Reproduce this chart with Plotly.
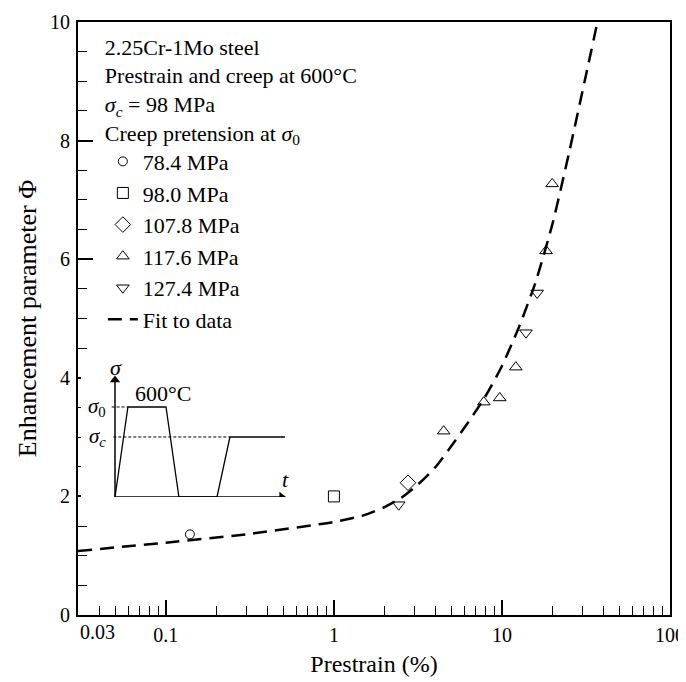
import plotly.graph_objects as go

# ---- data ----
circ_x = [0.139]
circ_y = [1.36]
sq_x = [1.0]
sq_y = [2.0]
dia_x = [2.76]
dia_y = [2.23]
up_x = [4.5, 7.8, 9.7, 12.1, 18.3, 19.9]
up_y = [3.10, 3.59, 3.66, 4.18, 6.14, 7.27]
dn_x = [2.43, 13.9, 16.2]
dn_y = [1.86, 4.76, 5.43]

fit_x = [0.03, 0.1, 0.3, 1.0, 1.5, 2.0, 2.5, 3.16, 3.98, 5.0, 6.3, 7.9, 10.0,
         12.6, 15.8, 20.0, 25.1, 31.6, 37.0]
fit_y = [1.08, 1.22, 1.36, 1.57, 1.68, 1.82, 1.97, 2.2, 2.48, 2.85, 3.25, 3.67,
         4.2, 4.85, 5.6, 6.6, 7.8, 9.1, 10.0]

x_tickvals = [0.1, 1, 10, 100]
x_ticktext = ["0.1", "1", "10", "100"]
y_tickvals = [0, 2, 4, 6, 8, 10]

# inset schematic (t, sigma) in schematic units
inset_t = [0, 0.76, 3.0, 3.76, 6.0, 6.76, 10]
sig0 = 1.5
sigc = 1.0
inset_s = [0, sig0, sig0, 0, 0, sigc, sigc]
t_end = 9.8
s_end = 1.95

FONT = "Liberation Serif"
FS_TICK = 20
FS_LEG = 22
FS_XTITLE = 24
FS_YTITLE = 26

fig = go.Figure()

mk = dict(color="black", width=1)
fig.add_trace(go.Scatter(x=circ_x, y=circ_y, mode="markers", name="78.4 MPa",
                         marker=dict(symbol="circle-open", size=9, color="black", line=mk)))
fig.add_trace(go.Scatter(x=sq_x, y=sq_y, mode="markers", name="98.0 MPa",
                         marker=dict(symbol="square-open", size=11, color="black", line=mk)))
fig.add_trace(go.Scatter(x=dia_x, y=dia_y, mode="markers", name="107.8 MPa",
                         marker=dict(symbol="diamond-open", size=12, color="black", line=mk)))
fig.add_trace(go.Scatter(x=up_x, y=up_y, mode="markers", name="117.6 MPa",
                         marker=dict(symbol="triangle-up-open", size=11, color="black", line=mk)))
fig.add_trace(go.Scatter(x=dn_x, y=dn_y, mode="markers", name="127.4 MPa",
                         marker=dict(symbol="triangle-down-open", size=11, color="black", line=mk)))
fig.add_trace(go.Scatter(x=fit_x, y=fit_y, mode="lines", name="Fit to data",
                         line=dict(color="black", width=2.5, dash="14px,8px", shape="spline",
                                   smoothing=0.6)))

# inset: axes with arrow heads
fig.add_trace(go.Scatter(x=[0, 0, None, 0, t_end], y=[0, s_end, None, 0, 0], mode="lines",
                         xaxis="x2", yaxis="y2", line=dict(color="black", width=1.5),
                         showlegend=False, hoverinfo="skip"))
fig.add_trace(go.Scatter(x=[0, t_end], y=[s_end, 0], mode="markers", xaxis="x2", yaxis="y2",
                         marker=dict(symbol=["triangle-up", "triangle-right"], size=9,
                                     color="black", line=dict(width=0)),
                         showlegend=False, hoverinfo="skip"))
# inset: stress history
fig.add_trace(go.Scatter(x=inset_t, y=inset_s, mode="lines", xaxis="x2", yaxis="y2",
                         line=dict(color="black", width=1.3), showlegend=False, hoverinfo="skip"))
fig.add_trace(go.Scatter(x=[-0.2, inset_t[1]], y=[sig0, sig0], mode="lines", xaxis="x2", yaxis="y2",
                         line=dict(color="black", width=1, dash="3px,2px"), showlegend=False,
                         hoverinfo="skip"))
fig.add_trace(go.Scatter(x=[-0.1, inset_t[5]], y=[sigc, sigc], mode="lines", xaxis="x2", yaxis="y2",
                         line=dict(color="black", width=1, dash="3px,2px"), showlegend=False,
                         hoverinfo="skip"))

annotations = [
    dict(x=0, y=2.0, xref="x2", yref="y2", text="<i>σ</i>", showarrow=False,
         xanchor="center", yanchor="bottom", xshift=1, yshift=-5,
         font=dict(size=22, family=FONT)),
    dict(x=10, y=0, xref="x2", yref="y2", text="<i>t</i>", showarrow=False,
         xanchor="center", yanchor="bottom", yshift=3, font=dict(size=22, family=FONT)),
    dict(x=3.0, y=sig0, xref="x2", yref="y2", text="600°C", showarrow=False,
         xanchor="center", yanchor="bottom", xshift=-3, yshift=-1,
         font=dict(size=22, family=FONT)),
    dict(x=-0.4, y=sig0, xref="x2", yref="y2", text="<i>σ</i><sub>0</sub>", showarrow=False,
         xanchor="right", yanchor="middle", font=dict(size=21, family=FONT)),
    dict(x=-0.4, y=sigc, xref="x2", yref="y2", text="<i>σ</i><sub><i>c</i></sub>", showarrow=False,
         xanchor="right", yanchor="middle", font=dict(size=21, family=FONT)),
    # 0.03 edge tick label
    dict(x=0, y=0, xref="paper", yref="paper", text="0.03", showarrow=False,
         xanchor="left", yanchor="top", yshift=-4,
         font=dict(size=FS_TICK, family=FONT, color="black")),
]

# the page body adds an 8px offset; the figure is sized so the plot lands where the reference's does
fig.update_layout(
    width=678, height=674,
    margin=dict(l=70, r=16, t=14, b=67),
    paper_bgcolor="white", plot_bgcolor="white",
    font=dict(family=FONT, size=FS_TICK, color="black"),
    showlegend=True,
    legend=dict(
        x=0.042, y=0.993, xanchor="left", yanchor="top",
        bgcolor="rgba(0,0,0,0)", borderwidth=0,
        font=dict(size=FS_LEG, family=FONT),
        title=dict(text="2.25Cr-1Mo steel<br>Prestrain and creep at 600°C<br>"
                        "<i>σ<sub>c</sub></i> = 98 MPa<br>Creep pretension at <i>σ</i><sub>0</sub>",
                   font=dict(size=FS_LEG, family=FONT)),
        itemwidth=30,
    ),
    xaxis=dict(
        type="log", range=[-1.5229, 2],
        tickvals=x_tickvals, ticktext=x_ticktext,
        ticks="inside", ticklen=15, tickwidth=1.5, tickcolor="black",
        minor=dict(ticks="inside", ticklen=9, tickwidth=1.3, tickcolor="black", dtick="D1",
                   showgrid=False),
        showline=True, linecolor="black", linewidth=2, mirror=True,
        showgrid=False, zeroline=False, automargin=False,
        tickfont=dict(size=FS_TICK, family=FONT),
        ticklabelstandoff=1,
        title=dict(text="Prestrain (%)", font=dict(size=FS_XTITLE, family=FONT), standoff=10),
    ),
    yaxis=dict(
        range=[0, 10],
        tickvals=y_tickvals,
        ticks="inside", ticklen=15, tickwidth=1.5, tickcolor="black",
        minor=dict(ticks="inside", ticklen=9, tickwidth=1.3, tickcolor="black", dtick=0.5,
                   showgrid=False),
        showline=True, linecolor="black", linewidth=2, mirror=True,
        showgrid=False, zeroline=False, automargin=False,
        tickfont=dict(size=FS_TICK, family=FONT),
        ticklabelstandoff=2,
        title=dict(text="Enhancement parameter Φ", font=dict(size=FS_YTITLE, family=FONT),
                   standoff=6),
    ),
    xaxis2=dict(domain=[0.00507, 0.3554], range=[-2, 10.2], anchor="y2", visible=False,
                fixedrange=True),
    yaxis2=dict(domain=[0.199, 0.4115], range=[0, 2.1], anchor="x2", visible=False,
                fixedrange=True),
    annotations=annotations,
)

fig.write_html("out.html")
